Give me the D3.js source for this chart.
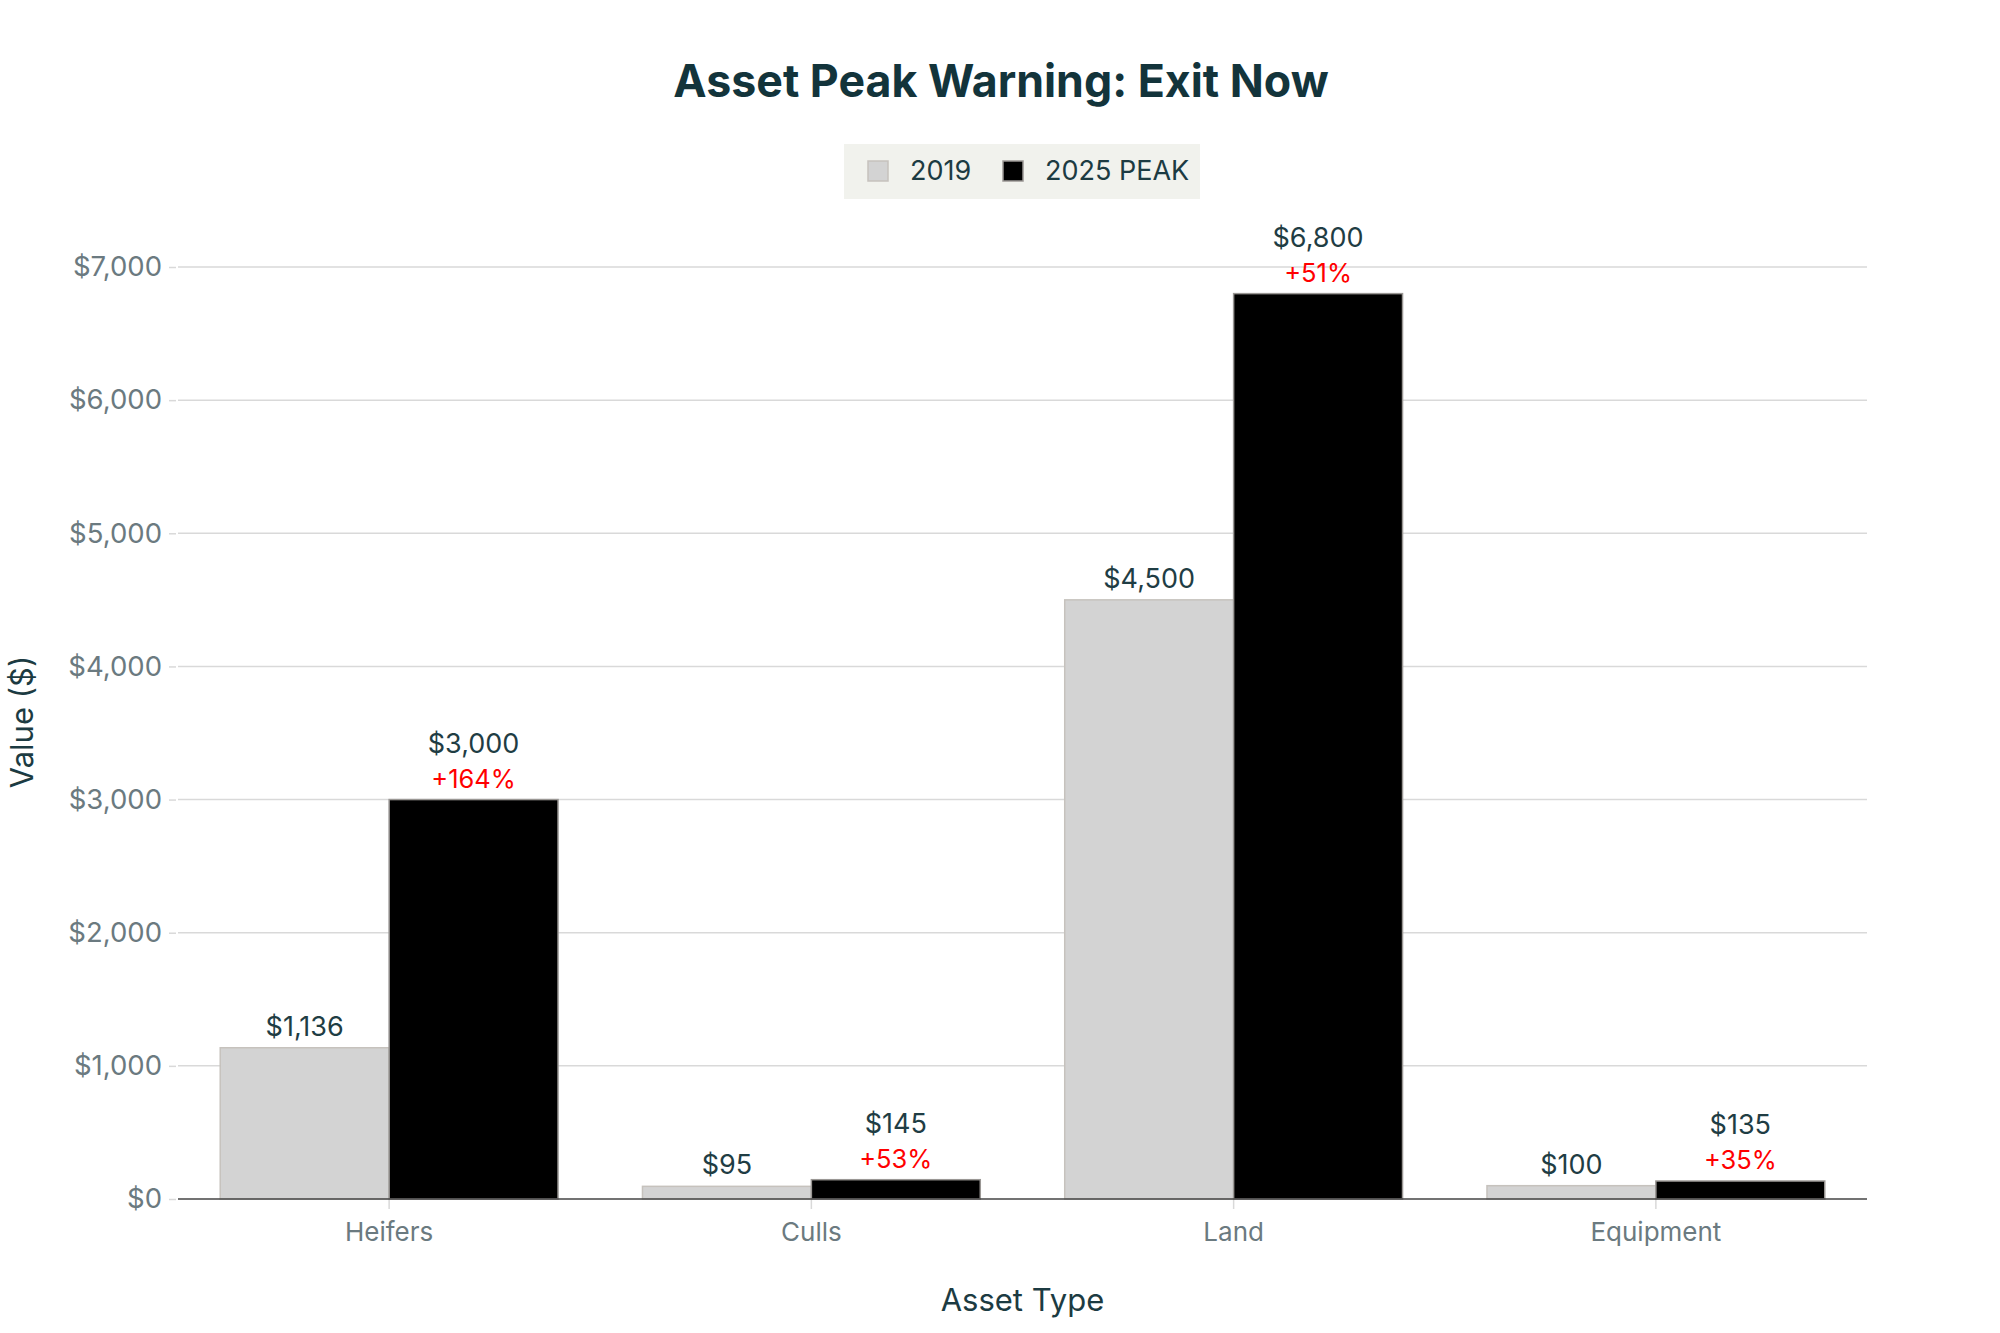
<!DOCTYPE html>
<html>
<head>
<meta charset="utf-8">
<script src="https://cdn.jsdelivr.net/npm/d3@7"></script>
<style>
  html, body { margin: 0; padding: 0; background: #ffffff; }
  svg { display: block; }
  text { font-family: Inter, "Noto Sans", "Liberation Sans", sans-serif; }
</style>
</head>
<body>
<svg id="chart" width="2000" height="1333"></svg>
<script>
const categories = ["Heifers", "Culls", "Land", "Equipment"];
const seriesNames = ["2019", "2025 PEAK"];
const values2019 = [1136, 95, 4500, 100];
const values2025 = [3000, 145, 6800, 135];
const pctLabels = ["+164%", "+53%", "+51%", "+35%"];
const yTicks = [0, 1000, 2000, 3000, 4000, 5000, 6000, 7000];
const chartTitle = "Asset Peak Warning: Exit Now";
const xTitle = "Asset Type";
const yTitle = "Value ($)";

const W = 2000, H = 1333;
const margin = { left: 178, right: 133, top: 267, bottom: 134 };
const plotL = margin.left, plotR = W - margin.right;
const y0px = H - margin.bottom; // 1199
const svg = d3.select("#chart");

const colors = { "2019": "#D3D3D3", "2025 PEAK": "#000000" };
const fmt = d3.format("$,.0f");

const x = d3.scaleBand().domain(categories).range([plotL, plotR]).paddingInner(0).paddingOuter(0);
const xSub = d3.scaleBand().domain(seriesNames).range([0, x.bandwidth()]).paddingInner(0).paddingOuter(0.25);
const y = d3.scaleLinear().domain([0, 7000]).range([y0px, margin.top]);

// gridlines
svg.append("g").selectAll("line").data(yTicks.filter(d => d > 0)).join("line")
  .attr("x1", plotL).attr("x2", plotR)
  .attr("y1", d => y(d)).attr("y2", d => y(d))
  .attr("stroke", "#d9d9d9").attr("stroke-width", 1.5);

// y axis
const yAxis = svg.append("g").attr("transform", `translate(${plotL - 2},0)`)
  .call(d3.axisLeft(y).tickValues(yTicks).tickFormat(fmt).tickSize(7).tickPadding(7));
yAxis.select(".domain").remove();
yAxis.selectAll(".tick line").attr("stroke", "#d9d9d9").attr("stroke-width", 1.5);
yAxis.selectAll(".tick text").attr("fill", "#6b7a80").style("font-size", "27.5px").style("font-family", "Inter, sans-serif");

// x axis
const xAxis = svg.append("g").attr("transform", `translate(0,${y0px})`)
  .call(d3.axisBottom(x).tickSize(10).tickPadding(14));
xAxis.select(".domain").remove();
xAxis.selectAll(".tick line").attr("stroke", "#d9d9d9").attr("stroke-width", 1.5);
xAxis.selectAll(".tick text").attr("fill", "#6b7a80").style("font-size", "26px").style("font-family", "Inter, sans-serif");

// bars
const rows = categories.map((c, i) => ({ cat: c, vals: [
  { s: "2019", v: values2019[i] },
  { s: "2025 PEAK", v: values2025[i], pct: pctLabels[i] }
]}));

const groups = svg.append("g").selectAll("g").data(rows).join("g")
  .attr("transform", d => `translate(${x(d.cat)},0)`);

groups.selectAll("rect").data(d => d.vals).join("rect")
  .attr("x", d => xSub(d.s))
  .attr("width", xSub.bandwidth())
  .attr("y", d => y(d.v))
  .attr("height", d => y(0) - y(d.v))
  .attr("fill", d => colors[d.s])
  .attr("stroke", d => d.s === "2019" ? "#c6c2bd" : "#9a9794")
  .attr("stroke-width", 1.5);

// value labels
groups.selectAll("text.val").data(d => d.vals).join("text")
  .attr("class", "val")
  .attr("x", d => xSub(d.s) + xSub.bandwidth() / 2)
  .attr("y", d => y(d.v) - (d.pct ? 47 : 12))
  .attr("text-anchor", "middle")
  .attr("fill", "#1f3d44")
  .style("font-size", "27px")
  .text(d => fmt(d.v));

groups.selectAll("text.pct").data(d => d.vals.filter(v => v.pct)).join("text")
  .attr("class", "pct")
  .attr("x", d => xSub(d.s) + xSub.bandwidth() / 2)
  .attr("y", d => y(d.v) - 12)
  .attr("text-anchor", "middle")
  .attr("fill", "#ff0000")
  .style("font-size", "25.5px")
  .text(d => d.pct);

// zero line
svg.append("line").attr("x1", plotL).attr("x2", plotR)
  .attr("y1", y(0)).attr("y2", y(0))
  .attr("stroke", "#444").attr("stroke-width", 1.5);

// title
svg.append("text").attr("x", 1001).attr("y", 97).attr("text-anchor", "middle")
  .attr("fill", "#13343B").style("font-size", "44.7px").style("font-weight", "700")
  .text(chartTitle);

// axis titles
svg.append("text").attr("x", (plotL + plotR) / 2).attr("y", 1311).attr("text-anchor", "middle")
  .attr("fill", "#1c3b42").style("font-size", "31px").text(xTitle);
svg.append("text").attr("transform", `translate(33,${(margin.top + y0px) / 2 - 11}) rotate(-90)`)
  .attr("text-anchor", "middle")
  .attr("fill", "#1c3b42").style("font-size", "31px").text(yTitle);

// legend
const lg = svg.append("g");
lg.append("rect").attr("x", 844).attr("y", 144).attr("width", 356).attr("height", 55).attr("fill", "#f1f2ed");
const legendItems = [ { s: seriesNames[0], x: 868, tx: 910 }, { s: seriesNames[1], x: 1003, tx: 1045 } ];
legendItems.forEach(it => {
  lg.append("rect").attr("x", it.x).attr("y", 161).attr("width", 20).attr("height", 20)
    .attr("fill", colors[it.s]).attr("stroke", it.s === "2019" ? "#c6c2bd" : "#9a9794").attr("stroke-width", 1.5);
  lg.append("text").attr("x", it.tx).attr("y", 180).attr("fill", "#1c3b42")
    .style("font-size", "27px").text(it.s);
});
</script>
</body>
</html>
